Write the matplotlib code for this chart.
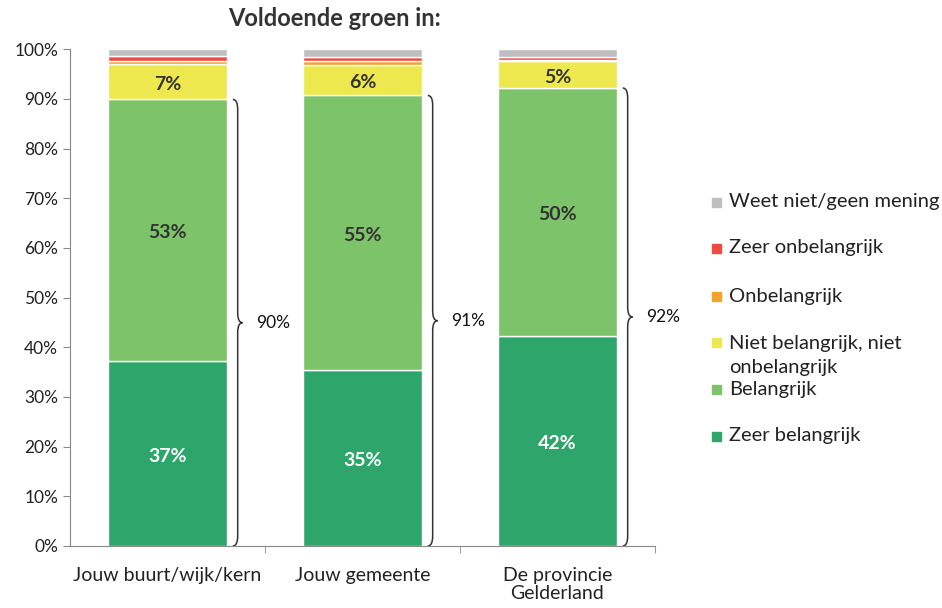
import matplotlib
matplotlib.use("Agg")
import matplotlib.pyplot as plt
import numpy as np
from matplotlib.path import Path
from matplotlib.patches import PathPatch, Rectangle

plt.rcParams['font.family'] = ['Lato', 'DejaVu Sans']

categories = ['Jouw buurt/wijk/kern', 'Jouw gemeente', 'De provincie\nGelderland']
series = ['Zeer belangrijk', 'Belangrijk', 'Niet belangrijk, niet\nonbelangrijk',
          'Onbelangrijk', 'Zeer onbelangrijk', 'Weet niet/geen mening']
zeer_belangrijk = [37.2, 35.4, 42.3]
belangrijk = [52.7, 55.3, 49.9]
neutraal = [7.1, 6.2, 5.4]
onbelangrijk = [0.6, 0.7, 0.2]
zeer_onbelangrijk = [1.0, 0.8, 0.6]
weet_niet = [1.4, 1.6, 1.6]
colors = ['#2EA56B', '#7DC36A', '#EDE84E', '#F5A32A', '#EF4B45', '#BFBFBF']

values = [zeer_belangrijk, belangrijk, neutraal, onbelangrijk, zeer_onbelangrijk, weet_niet]

fig = plt.figure(figsize=(9.42, 6.08), dpi=100)
ax = fig.add_axes([0.0743, 0.102, 0.621, 0.817])

x = np.arange(len(categories))
width = 0.61
bottom = np.zeros(len(categories))
for i, vals in enumerate(values):
    vals = np.array(vals)
    ax.bar(x, vals, width, bottom=bottom, color=colors[i], edgecolor='white', linewidth=1)
    if i < 3:
        for xi, v, b in zip(x, vals, bottom):
            ax.text(xi, b + v / 2 - 0.5, '%d%%' % round(v), ha='center', va='center',
                    fontsize=14, fontweight='bold',
                    color='white' if i == 0 else '#333333')
    bottom += vals


def brace(ax, x0, y0, y1, w, r):
    xm = x0 + w / 2
    ym = (y0 + y1) / 2
    verts = [(x0, y0), (xm, y0), (xm, y0 + r),
             (xm, ym - r),
             (xm, ym), (x0 + w, ym),
             (xm, ym), (xm, ym + r),
             (xm, y1 - r),
             (xm, y1), (x0, y1)]
    codes = [Path.MOVETO, Path.CURVE3, Path.CURVE3,
             Path.LINETO,
             Path.CURVE3, Path.CURVE3,
             Path.CURVE3, Path.CURVE3,
             Path.LINETO,
             Path.CURVE3, Path.CURVE3]
    ax.add_patch(PathPatch(Path(verts, codes), fill=False, lw=1.1, color='#333333'))


for xi, a, b in zip(x, zeer_belangrijk, belangrijk):
    top = a + b
    brace(ax, xi + 0.335, 0, top, 0.05, 2.0)
    ax.text(xi + 0.54, top / 2, '%d%%' % round(top), ha='center', va='center',
            fontsize=12.5, color='#111111')

ax.set_xlim(-0.5, 2.5)
ax.set_ylim(0, 100)
ax.set_yticks(np.arange(0, 101, 10))
ax.set_yticklabels(['%d%%' % v for v in range(0, 101, 10)], fontsize=12.5, color='#222222')
ax.set_xticks(x)
ax.set_xticklabels(categories, fontsize=14, color='#222222', linespacing=1.1)
ax.set_xticks([0.5, 1.5, 2.5], minor=True)
ax.tick_params(axis='x', which='major', length=0, pad=15)
ax.tick_params(axis='x', which='minor', length=5, color='#888888')
ax.tick_params(axis='y', length=5, color='#888888')
for s in ['top', 'right']:
    ax.spines[s].set_visible(False)
for s in ['left', 'bottom']:
    ax.spines[s].set_color('#888888')

fig.text(0.355, 0.969, 'Voldoende groen in:', ha='center', va='center',
         fontsize=17, fontweight='bold', color='#333333')

# legend, drawn by hand
leg_y = [436, 389, 342, 296, 248, 202]
for lbl, c, yp in zip(series, colors, leg_y):
    yf = 1 - yp / 608
    fig.patches.append(Rectangle((712 / 942, yf - 4.5 / 608), 9 / 942, 9 / 608,
                                 transform=fig.transFigure, color=c))
    ty = yf - 13 / 608 if '\n' in lbl else yf
    fig.text(729 / 942, ty, lbl, va='center', fontsize=14.5,
             color='#222222', linespacing=1.5)

fig.savefig('out.png', dpi=100)
